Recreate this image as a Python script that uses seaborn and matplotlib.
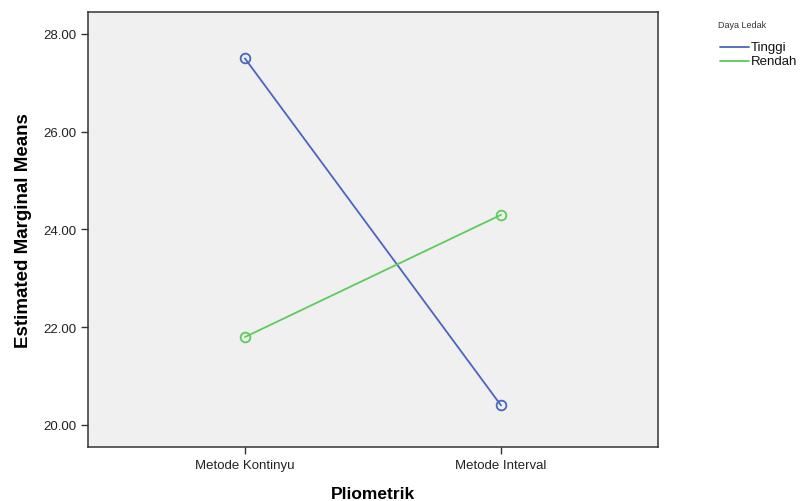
import pandas as pd
import matplotlib.pyplot as plt
import seaborn as sns

methods = ["Metode Kontinyu", "Metode Interval"]
groups = ["Tinggi", "Rendah"]
tinggi = [27.50, 20.40]
rendah = [21.80, 24.30]
yticks = [20.0, 22.0, 24.0, 26.0, 28.0]

df = pd.DataFrame({
    "Pliometrik": methods * 2,
    "Daya Ledak": [groups[0]] * 2 + [groups[1]] * 2,
    "Mean": tinggi + rendah,
})

sns.set_style("white")
plt.rcParams["font.family"] = ["Liberation Sans", "DejaVu Sans"]

fig = plt.figure(figsize=(8.05, 5.02), dpi=100)
ax = fig.add_axes([0.1093, 0.1076, 0.7081, 0.8665])
ax.set_facecolor("#f0f0f0")

palette = {"Tinggi": "#4a64c0", "Rendah": "#5ccc5c"}
sns.lineplot(data=df, x="Pliometrik", y="Mean", hue="Daya Ledak", palette=palette,
             marker="o", markersize=7, markerfacecolor="none", markeredgewidth=1.3,
             linewidth=1.3, sort=False, ax=ax, legend=False)
# seaborn paints marker edges white, give them the line colour
for line in ax.lines:
    line.set_markeredgecolor(line.get_color())

ax.set_xlim(-0.613, 1.613)
ax.set_ylim(19.55, 28.45)
ax.set_yticks(yticks)
ax.set_yticklabels([f"{v:.2f}" for v in yticks])
ax.tick_params(axis="both", direction="out", length=5, width=1, color="#333333",
               labelsize=9.5, labelcolor="#222222", left=True, bottom=True)
for s in ax.spines.values():
    s.set_color("#333333")
    s.set_linewidth(1.1)

ax.set_xlabel("Pliometrik", fontsize=12.5, fontweight="bold", labelpad=11, color="black")
ax.set_ylabel("Estimated Marginal Means", fontsize=13.5, fontweight="bold", labelpad=8,
              color="black")

fig.text(0.922, 0.944, "Daya Ledak", fontsize=6.5, color="#333333", ha="center")
for i, g in enumerate(groups):
    y = 0.904 - i * 0.028
    fig.add_artist(plt.Line2D([0.894, 0.930], [y, y], color=palette[g], lw=1.3,
                              transform=fig.transFigure))
    fig.text(0.933, y, g, fontsize=9.5, va="center", color="#111111")

fig.savefig("out.png", dpi=100)
